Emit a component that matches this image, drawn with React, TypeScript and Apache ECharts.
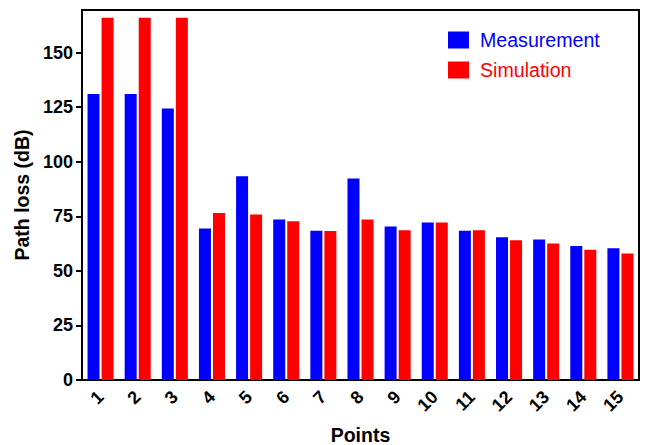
import React, { useEffect, useRef } from "react";
import * as echarts from "echarts";

const categories = ["1", "2", "3", "4", "5", "6", "7", "8", "9", "10", "11", "12", "13", "14", "15"];
const measurement = [131, 131, 124.4, 69.4, 93.3, 73.5, 68.4, 92.3, 70.3, 72.2, 68.4, 65.4, 64.4, 61.4, 60.3];
const simulation = [166, 166, 166, 76.5, 75.8, 72.7, 68.3, 73.5, 68.6, 72.1, 68.6, 64.0, 62.5, 59.7, 58.0];
const yTicks = { min: 0, max: 169.5, interval: 25 };

const FONT = "Arial, 'Liberation Sans', Helvetica, sans-serif";

export default function App() {
  const ref = useRef<HTMLDivElement>(null);
  useEffect(() => {
    if (!ref.current) return;
    const chart = echarts.init(ref.current, null, { renderer: "svg" });
    chart.setOption({
      animation: false,
      backgroundColor: "#ffffff",
      textStyle: { fontFamily: FONT },
      grid: {
        left: 82,
        right: 9,
        top: 10,
        bottom: 65,
        show: true,
        borderColor: "#000",
        borderWidth: 2,
        containLabel: false,
        outerBoundsMode: "none",
      },
      legend: {
        orient: "vertical",
        left: 448,
        top: 30,
        padding: 0,
        itemWidth: 21,
        itemHeight: 17,
        itemGap: 10,
        icon: "rect",
        textStyle: { fontSize: 19.6, fontFamily: FONT, padding: [0, 0, 0, 6] },
        data: [
          { name: "Measurement", textStyle: { color: "#0000ff" } },
          { name: "Simulation", textStyle: { color: "#ff0000" } },
        ],
      },
      xAxis: {
        type: "category",
        data: categories,
        name: "Points",
        nameLocation: "middle",
        nameGap: 45,
        nameTextStyle: { fontSize: 19.5, fontWeight: "bold", color: "#000", fontFamily: FONT },
        axisLine: { lineStyle: { color: "#000", width: 2 } },
        axisTick: { alignWithLabel: true, length: 6, lineStyle: { color: "#000", width: 2 } },
        axisLabel: { rotate: 45, fontSize: 18, fontWeight: "bold", color: "#000", margin: 14, fontFamily: FONT },
      },
      yAxis: {
        type: "value",
        min: yTicks.min,
        max: yTicks.max,
        interval: yTicks.interval,
        name: "Path loss (dB)",
        nameLocation: "middle",
        nameGap: 48,
        nameTextStyle: { fontSize: 19.5, fontWeight: "bold", color: "#000", fontFamily: FONT },
        splitLine: { show: false },
        axisLine: { show: true, lineStyle: { color: "#000", width: 2 } },
        axisTick: { show: true, length: 6, lineStyle: { color: "#000", width: 2 } },
        axisLabel: { fontSize: 18, fontWeight: "bold", color: "#000", margin: 9, showMaxLabel: false, fontFamily: FONT },
      },
      series: [
        {
          name: "Measurement",
          type: "bar",
          data: measurement,
          barWidth: 12,
          barGap: "17%",
          itemStyle: { color: "#0000ff" },
        },
        {
          name: "Simulation",
          type: "bar",
          data: simulation,
          barWidth: 12,
          barGap: "17%",
          itemStyle: { color: "#ff0000" },
        },
      ],
    });
    return () => chart.dispose();
  }, []);
  return <div ref={ref} style={{ width: 648, height: 445, position: "absolute", left: 0, top: 0 }} />;
}
